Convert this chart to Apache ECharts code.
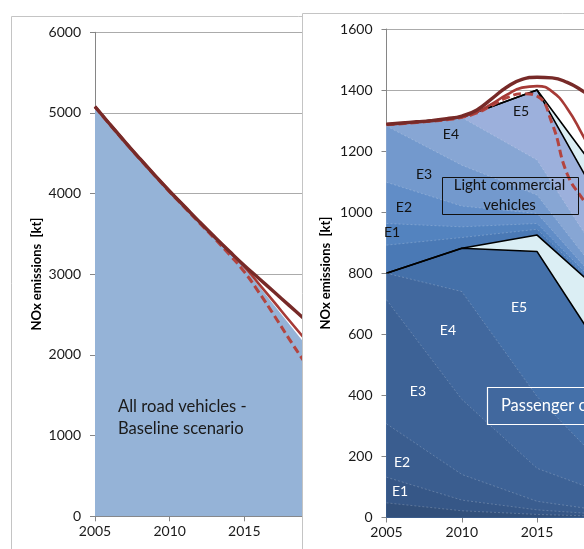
<!DOCTYPE html>
<html>
<head>
<meta charset="utf-8">
<script src="https://cdn.jsdelivr.net/npm/echarts@6/dist/echarts.min.js"></script>
<style>
  html, body { margin: 0; padding: 0; width: 584px; height: 549px; overflow: hidden; background: #fff; }
  #allRoad { position: absolute; left: 0; top: 0; width: 584px; height: 549px; }
  #fleet { position: absolute; left: 302px; top: 13px; width: 520px; height: 560px; background: #fff; }
</style>
</head>
<body>
<div id="allRoad"></div>
<div id="fleet"></div>
<script>
// ---- data (NOx emissions, kt) ----
const yearsFleet = [2005, 2010, 2015, 2020];
const yearsCurve = [2005, 2006, 2007, 2008, 2009, 2010, 2011, 2012, 2013, 2014, 2015, 2016, 2017, 2018, 2019, 2020];

// all road vehicles, baseline scenario
const allRoadBaseline = [5060, 4010, 3080, 1920];
const allRoadDark   = [5080, 4860, 4645, 4435, 4230, 4030, 3840, 3650, 3465, 3285, 3110, 2945, 2780, 2615, 2450, 2285];
const allRoadRed    = [5080, 4860, 4645, 4435, 4230, 4030, 3840, 3650, 3465, 3280, 3095, 2875, 2655, 2430, 2210, 1990];
const allRoadDashed = [5075, 4855, 4640, 4430, 4225, 4022, 3830, 3638, 3445, 3245, 3030, 2770, 2490, 2200, 1920, 1650];

// passenger cars by Euro class
const pcPre = [48, 22, 10, 3];
const pcE1  = [84, 35, 15, 5];
const pcE2  = [175, 84, 28, 10];
const pcE3  = [406, 246, 108, 52];
const pcE4  = [87, 353, 235, 70];
const pcE5  = [0, 142, 475, 352];
const pcE6  = [0, 0, 54, 213];
// light commercial vehicles by Euro class
const lcvPre = [92, 35, 19, 3];
const lcvE1  = [71, 35, 19, 4];
const lcvE2  = [135, 68, 33, 8];
const lcvE3  = [184, 134, 60, 20];
const lcvE4  = [6, 156, 115, 50];
const lcvE5  = [0, 0, 229, 172];
const lcvE6  = [0, 0, 0, 105];

// passenger cars + light commercial vehicles totals
const fleetDark   = [1288, 1292, 1296, 1300, 1306, 1315, 1335, 1372, 1410, 1435, 1442, 1440, 1425, 1398, 1365, 1330];
const fleetRed    = [1288, 1291, 1295, 1299, 1305, 1313, 1328, 1355, 1385, 1408, 1413, 1395, 1340, 1255, 1165, 1080];
const fleetDashed = [1286, 1290, 1294, 1298, 1303, 1311, 1325, 1350, 1375, 1388, 1380, 1290, 1125, 1045, 975, 910];

const xTicks = { min: 2005, max: 2030, interval: 5 };
const allRoadTicks = { min: 0, max: 6000, interval: 1000 };
const fleetTicks = { min: 0, max: 1600, interval: 200 };

// ---- shared styling ----
const FONT = 'Lato';
const TEXT = '#1a1a1a';
const AXIS = '#868686';
const GRIDLINE = '#ababab';
const FRAME = '#c4c4c4';
const DARK = '#772a28', RED = '#a63a36', DASH = '#b3443f';

const zip = (xs, ys) => xs.map((x, i) => [x, ys[i]]);
const plain = v => String(v);

function xAxisDef() {
  return {
    type: 'value', min: xTicks.min, max: xTicks.max, interval: xTicks.interval,
    axisLine: { lineStyle: { color: AXIS, width: 1 } },
    axisTick: { show: true, length: 5, lineStyle: { color: AXIS } },
    splitLine: { show: false },
    axisLabel: { fontFamily: FONT, fontSize: 14, color: TEXT, margin: 8, formatter: plain }
  };
}
function yAxisDef(t) {
  return {
    type: 'value', min: t.min, max: t.max, interval: t.interval,
    axisLine: { show: true, lineStyle: { color: AXIS, width: 1 } },
    axisTick: { show: true, length: 5, lineStyle: { color: AXIS } },
    splitLine: { lineStyle: { color: GRIDLINE, width: 1 } },
    axisLabel: { fontFamily: FONT, fontSize: 14, color: TEXT, margin: 14, formatter: plain }
  };
}
function curve(data, color, width, type, z) {
  return {
    type: 'line', data: zip(yearsCurve, data), smooth: 0.5, showSymbol: false, z: z,
    lineStyle: { color: color, width: width, type: type || 'solid', cap: 'butt' },
    emphasis: { disabled: true }, silent: true
  };
}

// ---- all road vehicles ----
const allRoadChart = echarts.init(document.getElementById('allRoad'), null, { renderer: 'canvas' });
allRoadChart.setOption({
  animation: false,
  grid: { left: 95, top: 32.3, width: 373.3, height: 484, containLabel: false },
  xAxis: xAxisDef(),
  yAxis: yAxisDef(allRoadTicks),
  series: [
    { type: 'line', data: zip(yearsFleet, allRoadBaseline), showSymbol: false, z: 1, silent: true,
      lineStyle: { width: 0 }, areaStyle: { color: '#95b3d7', opacity: 1 } },
    curve(allRoadDashed, DASH, 3, [8, 4], 4),
    curve(allRoadRed, RED, 2.6, 'solid', 5),
    curve(allRoadDark, DARK, 3.4, 'solid', 6)
  ]
});
{
  const p = allRoadChart.convertToPixel({ gridIndex: 0 }, [2006.54, 1220]);
  allRoadChart.setOption({
    graphic: [
      { type: 'rect', z: 0, silent: true, shape: { x: 11.5, y: 16.5, width: 800, height: 800 },
        style: { fill: 'none', stroke: FRAME, lineWidth: 1 } },
      { type: 'text', z: 20, silent: true, x: 37, y: 274, rotation: Math.PI / 2,
        style: { text: 'NOx emissions  [kt]', fontFamily: FONT, fontWeight: 'bold', fontSize: 13,
                 fill: '#000', align: 'center', verticalAlign: 'middle' } },
      { type: 'text', z: 20, silent: true, x: p[0], y: p[1],
        style: { text: 'All road vehicles -\nBaseline scenario', fontFamily: FONT, fontSize: 16.6,
                 lineHeight: 21.6, fill: TEXT, align: 'left', verticalAlign: 'middle' } }
    ]
  });
}

// ---- passenger cars and light commercial vehicles ----
// bottom to top
const layers = [
  { data: pcPre,  color: '#32507b', edge: 'soft' },
  { data: pcE1,   color: '#365787', edge: 'soft' },
  { data: pcE2,   color: '#3a5d8f', edge: 'soft' },
  { data: pcE3,   color: '#3d6296', edge: 'soft' },
  { data: pcE4,   color: '#41689e', edge: 'soft' },
  { data: pcE5,   color: '#4470a9', edge: 'black' },
  { data: pcE6,   color: '#dbeef4', edge: 'black' },
  { data: lcvPre, color: '#4a79b5', edge: 'soft' },
  { data: lcvE1,  color: '#5383bf', edge: 'soft' },
  { data: lcvE2,  color: '#618dc7', edge: 'soft' },
  { data: lcvE3,  color: '#7399cd', edge: 'soft' },
  { data: lcvE4,  color: '#87a6d4', edge: 'soft' },
  { data: lcvE5,  color: '#9cb0dc', edge: 'black' },
  { data: lcvE6,  color: '#dbeef4', edge: 'black' }
];
// cumulative tops; each band is painted from zero up to its top, topmost first,
// so every lower band covers the part below its own upper edge
const running = yearsFleet.map(() => 0);
const tops = layers.map(l => {
  l.data.forEach((v, i) => { running[i] += v; });
  return running.slice();
});
const fleetSeries = [];
for (let k = layers.length - 1; k >= 0; k--) {
  const l = layers[k];
  fleetSeries.push({
    type: 'line', data: zip(yearsFleet, tops[k]), showSymbol: false, silent: true, z: 2,
    areaStyle: { color: l.color, opacity: 1, origin: 'start' },
    lineStyle: l.edge === 'black'
      ? { color: '#000', width: 1.6 }
      : { color: 'rgba(255,255,255,0.3)', width: 0.7, type: [2, 2] }
  });
}
fleetSeries.push(curve(fleetDashed, DASH, 3, [8, 4], 7));
fleetSeries.push(curve(fleetRed, RED, 2.6, 'solid', 8));
fleetSeries.push(curve(fleetDark, DARK, 3.4, 'solid', 9));

const fleetChart = echarts.init(document.getElementById('fleet'), null, { renderer: 'canvas' });
fleetChart.setOption({
  animation: false,
  backgroundColor: '#fff',
  grid: { left: 84.5, top: 16, width: 376.5, height: 488.5, containLabel: false },
  xAxis: xAxisDef(),
  yAxis: yAxisDef(fleetTicks),
  series: fleetSeries
});

// class labels and group boxes, anchored in data units
const lcvClassSpots = [['E5', 2013.93, 1331], ['E4', 2009.28, 1253], ['E3', 2007.49, 1122], ['E2', 2006.16, 1017], ['E1', 2005.37, 935]];
const pcClassSpots  = [['E5', 2013.80, 689], ['E4', 2009.08, 611], ['E3', 2007.09, 414], ['E2', 2006.03, 179], ['E1', 2005.90, 84]];
{
  const at = (x, y) => fleetChart.convertToPixel({ gridIndex: 0 }, [x, y]);
  const g = [
    { type: 'rect', z: 30, silent: true, shape: { x: 0.5, y: 0.5, width: 900, height: 900 },
      style: { fill: 'none', stroke: FRAME, lineWidth: 1 } },
    { type: 'text', z: 30, silent: true, x: 24, y: 260, rotation: Math.PI / 2,
      style: { text: 'NOx emissions  [kt]', fontFamily: FONT, fontWeight: 'bold', fontSize: 13,
               fill: '#000', align: 'center', verticalAlign: 'middle' } }
  ];
  const classLabel = (s, fill) => {
    const p = at(s[1], s[2]);
    return { type: 'text', z: 30, silent: true, x: p[0], y: p[1],
      style: { text: s[0], fontFamily: FONT, fontSize: 14, fill: fill, align: 'center', verticalAlign: 'middle' } };
  };
  lcvClassSpots.forEach(s => g.push(classLabel(s, '#111')));
  pcClassSpots.forEach(s => g.push(classLabel(s, '#fff')));

  const a = at(2008.67, 1116), b = at(2017.67, 996);
  g.push({ type: 'rect', z: 30, silent: true,
    shape: { x: Math.round(a[0]) + 0.5, y: Math.round(a[1]) + 0.5, width: Math.round(b[0] - a[0]), height: Math.round(b[1] - a[1]) },
    style: { fill: 'none', stroke: '#111', lineWidth: 1 } });
  g.push({ type: 'text', z: 31, silent: true, x: (a[0] + b[0]) / 2, y: (a[1] + b[1]) / 2,
    style: { text: 'Light commercial\nvehicles', fontFamily: FONT, fontSize: 15, lineHeight: 19.5,
             fill: '#111', align: 'center', verticalAlign: 'middle' } });

  const c = at(2011.65, 426), d = at(2030, 305);
  g.push({ type: 'rect', z: 30, silent: true,
    shape: { x: Math.round(c[0]) + 0.5, y: Math.round(c[1]) + 0.5, width: Math.round(d[0] - c[0]), height: Math.round(d[1] - c[1]) },
    style: { fill: 'none', stroke: '#fff', lineWidth: 1.2 } });
  const t = at(2012.6, 365);
  g.push({ type: 'text', z: 31, silent: true, x: t[0], y: t[1],
    style: { text: 'Passenger cars', fontFamily: FONT, fontSize: 16.5, fill: '#fff', align: 'left', verticalAlign: 'middle' } });

  fleetChart.setOption({ graphic: g });
}
</script>
</body>
</html>
